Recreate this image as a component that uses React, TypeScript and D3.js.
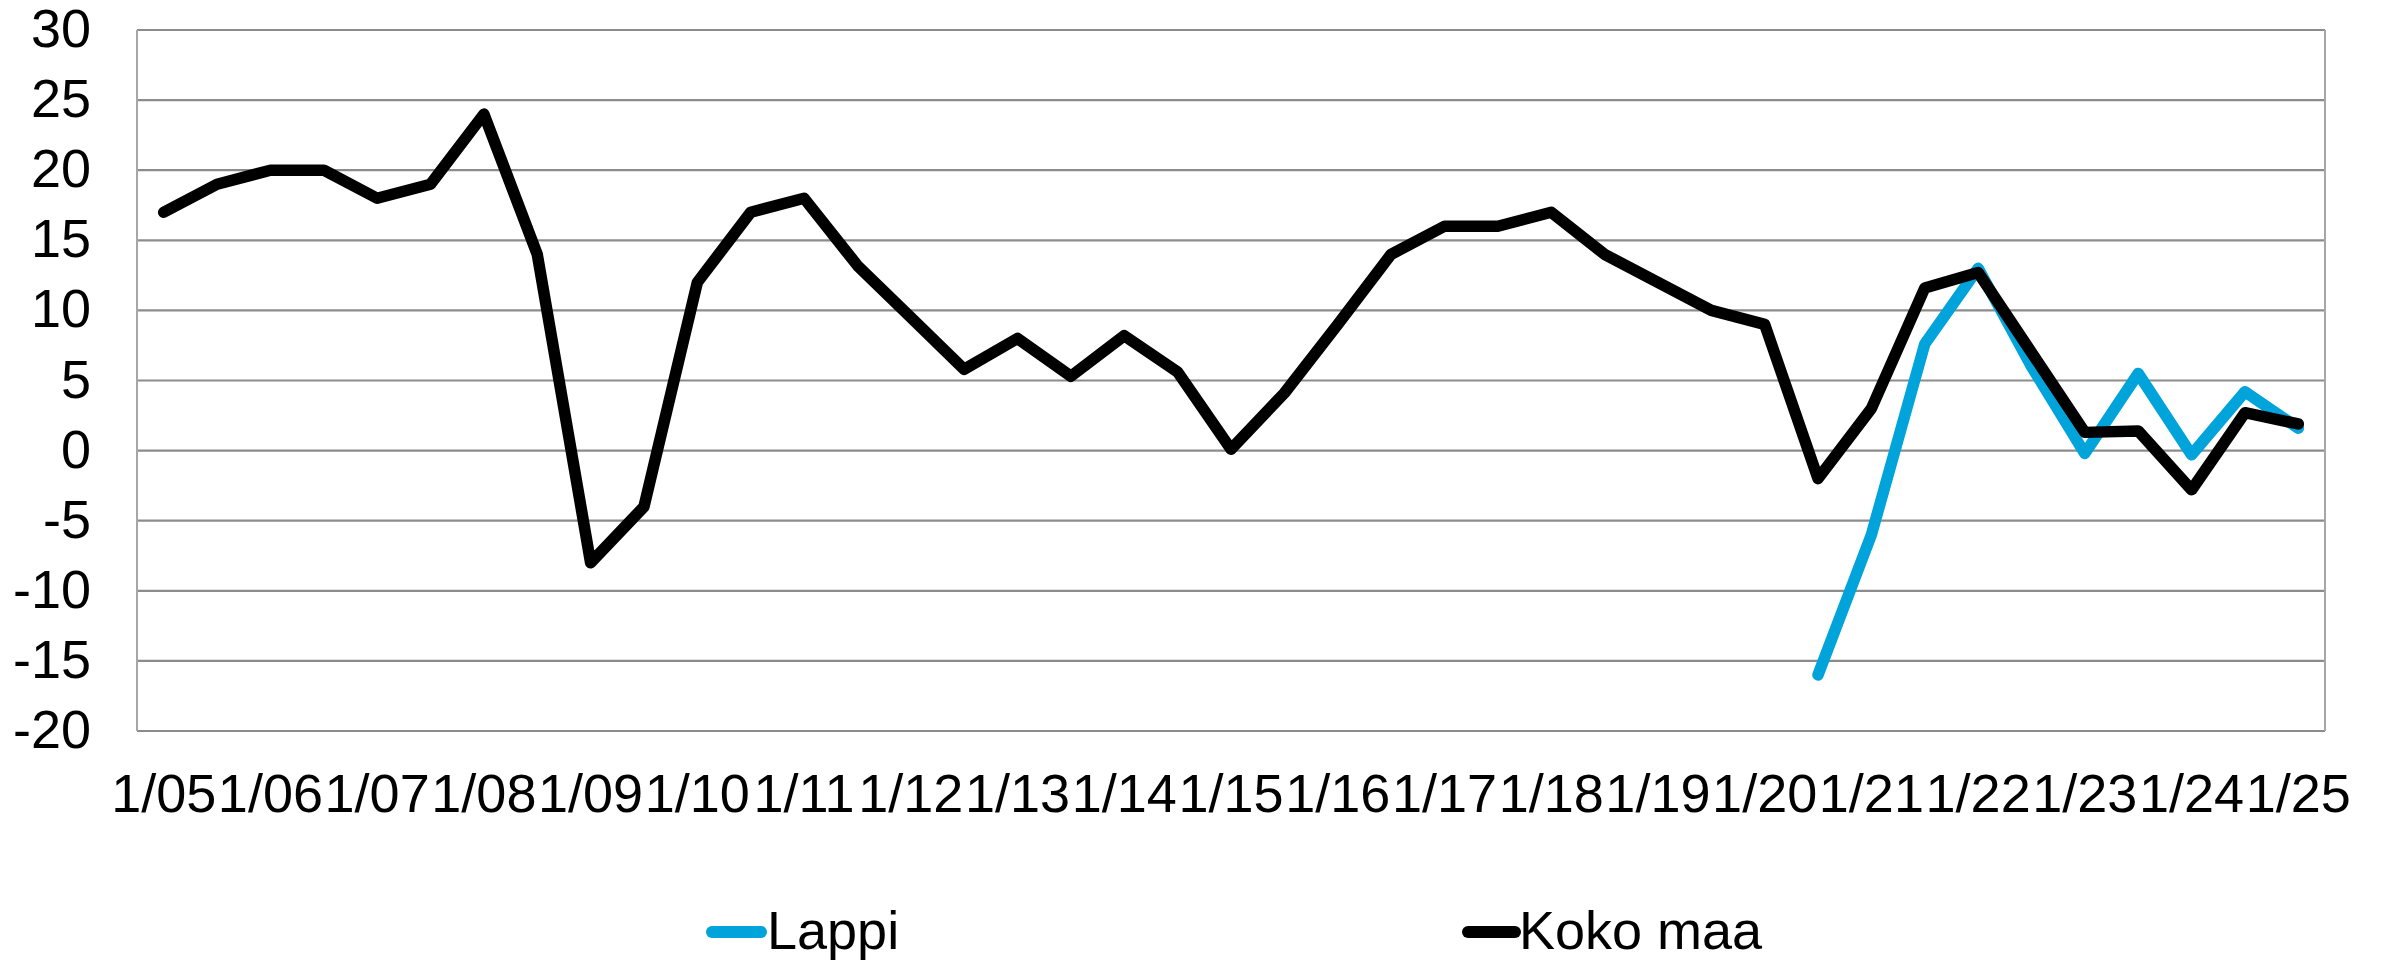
import React from 'react';
import * as d3 from 'd3';

// half-year periods, only January ones are labelled
const years = ['05','06','07','08','09','10','11','12','13','14','15','16','17','18','19','20','21','22','23','24','25'];
const periods: string[] = years.flatMap((y, i) => (i < years.length - 1 ? [`1/${y}`, `7/${y}`] : [`1/${y}`]));

const kokoMaa = [
  17, 19, 20, 20, 18, 19, 24, 14, -8, -4,
  12, 17, 18, 13.2, 9.5, 5.8, 8, 5.3, 8.2, 5.6,
  0.1, 4.1, 9, 14, 16, 16, 17, 14, 12, 10,
  9, -2, 3, 11.6, 12.7, 7, 1.3, 1.4, -2.8, 2.7,
  1.9,
];

const lappi: (number | null)[] = [
  null, null, null, null, null, null, null, null, null, null,
  null, null, null, null, null, null, null, null, null, null,
  null, null, null, null, null, null, null, null, null, null,
  null, -16, -6, 7.6, 13, 6, -0.2, 5.5, -0.3, 4.2,
  1.6,
];

const yTicks = [30, 25, 20, 15, 10, 5, 0, -5, -10, -15, -20];

const W = 2381, H = 960;
const left = 137, right = 2325, top = 30, bottom = 731;
const font = '"Liberation Sans", Arial, sans-serif';
const fs = 54;

export default function App() {
  const x = d3.scalePoint<string>().domain(periods).range([left, right]).padding(0.5);
  const y = d3.scaleLinear().domain([-20, 30]).range([bottom, top]);

  const line = d3.line<number | null>()
    .defined(d => d !== null)
    .x((_, i) => x(periods[i]) as number)
    .y(d => y(d as number));

  return (
    <svg width={W} height={H} style={{ position: 'absolute', left: 0, top: 0, background: '#fff' }}>
      {/* gridlines */}
      {yTicks.map(t => (
        <line key={t} x1={left} x2={right} y1={y(t)} y2={y(t)} stroke="#8c8c8c" strokeWidth={2.2} />
      ))}
      <line x1={left} x2={left} y1={top} y2={bottom} stroke="#a6a6a6" strokeWidth={2} />
      <line x1={right} x2={right} y1={top} y2={bottom} stroke="#a6a6a6" strokeWidth={2} />

      {/* y labels */}
      {yTicks.map(t => (
        <text key={t} x={91} y={y(t) + 17} textAnchor="end" fontFamily={font} fontSize={fs} fill="#000">{t}</text>
      ))}

      {/* x labels */}
      {periods.filter((_, i) => i % 2 === 0).map(p => (
        <text key={p} x={x(p)} y={812} textAnchor="middle" fontFamily={font} fontSize={fs} fill="#000">{p}</text>
      ))}

      <path d={line(lappi) || ''} fill="none" stroke="#00A3DA" strokeWidth={11.5} strokeLinejoin="round" strokeLinecap="round" />
      <path d={line(kokoMaa) || ''} fill="none" stroke="#000" strokeWidth={11.5} strokeLinejoin="round" strokeLinecap="round" />

      {/* legend */}
      <line x1={712} x2={761} y1={932} y2={932} stroke="#00A3DA" strokeWidth={12} strokeLinecap="round" />
      <text x={767} y={949} fontFamily={font} fontSize={fs} fill="#000">Lappi</text>
      <line x1={1468} x2={1515} y1={932} y2={932} stroke="#000" strokeWidth={12} strokeLinecap="round" />
      <text x={1519} y={949} fontFamily={font} fontSize={fs} fill="#000">Koko maa</text>
    </svg>
  );
}
